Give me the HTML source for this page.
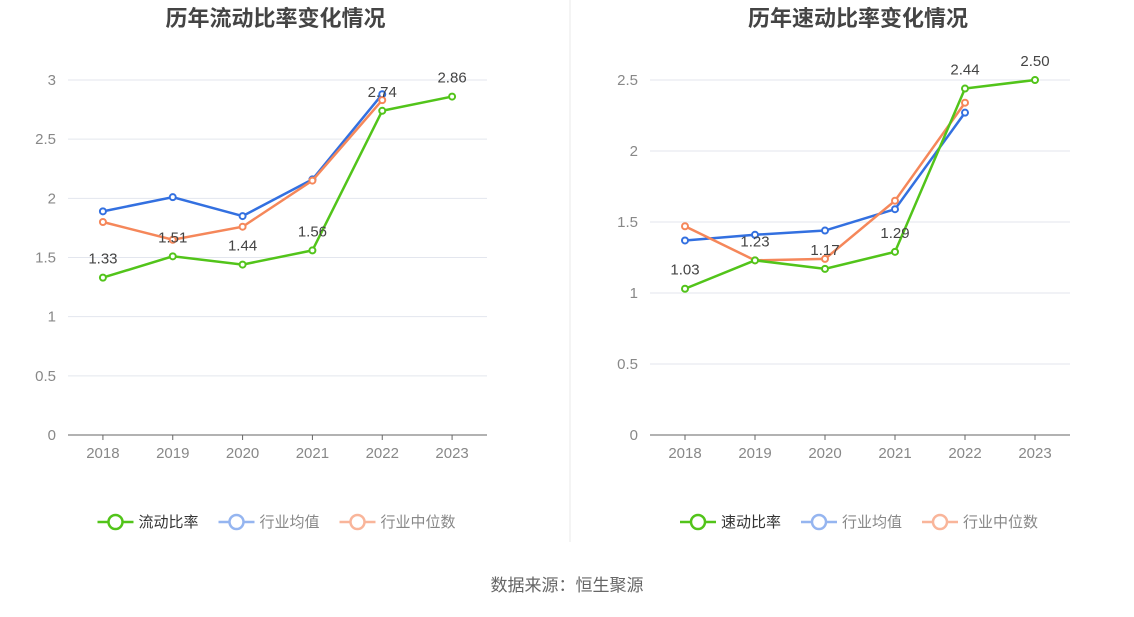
<!DOCTYPE html>
<html><head><meta charset="utf-8"><style>
body{margin:0;background:#fff;font-family:"Liberation Sans","Noto Sans CJK SC",sans-serif}
svg text{font-family:"Liberation Sans","Noto Sans CJK SC",sans-serif}
</style></head><body>
<svg id="c" width="1134" height="612">
<line x1="570" y1="0" x2="570" y2="542" stroke="#e8e8e8"/>
<text x="567" y="591" font-size="17" fill="#666" text-anchor="middle">数据来源：恒生聚源</text>
</svg>
<script>
const years=["2018","2019","2020","2021","2022","2023"];
const curRatio=[1.33,1.51,1.44,1.56,2.74,2.86];
const curAvg=[1.89,2.01,1.85,2.16,2.88];
const curMed=[1.80,1.65,1.76,2.15,2.83];
const quickRatio=[1.03,1.23,1.17,1.29,2.44,2.50];
const quickAvg=[1.37,1.41,1.44,1.59,2.27];
const quickMed=[1.47,1.23,1.24,1.65,2.34];
const curTicks=[0,0.5,1,1.5,2,2.5,3];
const quickTicks=[0,0.5,1,1.5,2,2.5];
const svg=document.getElementById('c');
const NS='http://www.w3.org/2000/svg';
function mk(t,a){const e=document.createElementNS(NS,t);for(const k in a)e.setAttribute(k,a[k]);svg.appendChild(e);return e;}
function chart(opt){
 const {x0,x1,yMax,ticks,title,main,avg,med,mainName,prefix}=opt;
 const y0=435,yTop=80;
 const ys=v=>y0-(v/yMax)*(y0-yTop);
 const step=(x1-x0)/years.length;
 const xs=i=>x0+step*(i+0.5);
 let t=mk('text',{x:(x0+x1)/2-2,y:26,'font-size':22,'font-weight':'bold',fill:'#444','text-anchor':'middle'});t.textContent=title;
 
 
 ticks.forEach(v=>{
  if(v>0){const g=mk('line',{x1:x0,x2:x1,y1:ys(v),y2:ys(v),stroke:'#e3e6ee'});
  
  }
  const l=mk('text',{x:x0-12,y:ys(v)+5,'font-size':15,fill:'#888','text-anchor':'end'});l.textContent=String(v);
  
  
 });
 const ax=mk('line',{x1:x0,x2:x1,y1:y0,y2:y0,stroke:'#666'});
 
 
 years.forEach((y,i)=>{
  const tk=mk('line',{x1:xs(i),x2:xs(i),y1:y0,y2:y0+5,stroke:'#666'});
  
  
  const l=mk('text',{x:xs(i),y:y0+23,'font-size':15,fill:'#888','text-anchor':'middle'});l.textContent=y;
  
  
 });
 const series=[[avg,'#3370e0','avg'],[med,'#f5875a','median'],[main,'#52c41a','main']];
 series.forEach(([d,c,n])=>{
  const p=mk('polyline',{points:d.map((v,i)=>xs(i)+','+ys(v)).join(' '),fill:'none',stroke:c,'stroke-width':2.5});
  
  
  d.forEach((v,i)=>{const m=mk('circle',{cx:xs(i),cy:ys(v),r:3,fill:'#fff',stroke:c,'stroke-width':2});
   
   });
 });
 main.forEach((v,i)=>{const l=mk('text',{x:xs(i),y:ys(v)-14,'font-size':15,fill:'#444','text-anchor':'middle'});l.textContent=v.toFixed(2);
  
  });
 const names=[mainName,'行业均值','行业中位数'],cols=['#52c41a','#95b5f0','#f9b59a'],tc=['#333','#888','#888'];
 let lx=(x0+x1)/2-180;
 names.forEach((nm,k)=>{
  const ln=mk('line',{x1:lx,x2:lx+36,y1:522,y2:522,stroke:cols[k],'stroke-width':2.5});
  
  
  const ci=mk('circle',{cx:lx+18,cy:522,r:7,fill:'#fff',stroke:cols[k],'stroke-width':2.5});
  
  
  const tx=mk('text',{x:lx+41,y:527,'font-size':15,fill:tc[k]});tx.textContent=nm;
  
  
  lx+=41+nm.length*15+20;
 });
}
chart({x0:68,x1:487,yMax:3,ticks:curTicks,title:'历年流动比率变化情况',main:curRatio,avg:curAvg,med:curMed,mainName:'流动比率',prefix:'current'});
chart({x0:650,x1:1070,yMax:2.5,ticks:quickTicks,title:'历年速动比率变化情况',main:quickRatio,avg:quickAvg,med:quickMed,mainName:'速动比率',prefix:'quick'});
</script>
</body></html>
